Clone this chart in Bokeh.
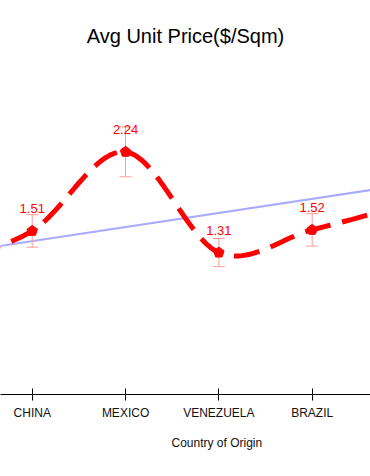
import numpy as np
from bokeh.plotting import figure
from bokeh.models import (Range1d, FixedTicker, Whisker, TeeHead, ColumnDataSource,
                          Title, Slope, GlobalInlineStyleSheet)
from bokeh.embed import file_html
from bokeh.resources import INLINE
from bokeh.core.properties import value

# ---- data ----
categories = ["CHINA", "MEXICO", "VENEZUELA", "BRAZIL"]
prices = [1.51, 2.24, 1.31, 1.52]
errors = [0.15, 0.23, 0.13, 0.15]
labels = ["1.51", "2.24", "1.31", "1.52"]
# the series continues outside the visible window on both sides
offscreen_left = 1.20
offscreen_right = 1.75
# light-blue trend line (value per category step, value at CHINA)
trend_gradient = 0.130
trend_intercept = 1.416

FONT = "Liberation Sans"

x = list(range(len(categories)))
curve_x = [x[0] - 1] + x + [x[-1] + 1]
curve_y = [offscreen_left] + prices + [offscreen_right]


def catmull_rom(xs, ys, steps=24):
    xs = np.asarray(xs, float)
    ys = np.asarray(ys, float)
    n = len(xs)
    px = np.concatenate([[xs[0]], xs, [xs[-1]]])
    py = np.concatenate([[ys[0]], ys, [ys[-1]]])
    outx, outy = [], []
    t = np.linspace(0, 1, steps, endpoint=False)
    h00 = 2 * t**3 - 3 * t**2 + 1
    h10 = t**3 - 2 * t**2 + t
    h01 = -2 * t**3 + 3 * t**2
    h11 = t**3 - t**2
    for i in range(n - 1):
        x0, x1 = px[i + 1], px[i + 2]
        y0, y1 = py[i + 1], py[i + 2]
        mx0 = 0.5 * (px[i + 2] - px[i]); my0 = 0.5 * (py[i + 2] - py[i])
        mx1 = 0.5 * (px[i + 3] - px[i + 1]); my1 = 0.5 * (py[i + 3] - py[i + 1])
        outx.extend(h00 * x0 + h10 * mx0 + h01 * x1 + h11 * mx1)
        outy.extend(h00 * y0 + h10 * my0 + h01 * y1 + h11 * my1)
    outx.append(xs[-1]); outy.append(ys[-1])
    return outx, outy


p = figure(width=370, height=476, output_backend="svg", toolbar_location=None,
           x_range=Range1d(-0.34, 3.625), y_range=Range1d(0, 3),
           min_border_left=0, min_border_right=0, min_border_top=69,
           min_border_bottom=82)
p.stylesheets = [GlobalInlineStyleSheet(css="body{margin:0;overflow:hidden}")]

p.title.text = "Avg Unit Price($/Sqm)"
p.title.align = "center"
p.title.text_font = FONT
p.title.text_font_size = "20px"
p.title.text_font_style = "normal"
p.title.text_color = "black"
p.title.standoff = 45

p.outline_line_color = None
p.xgrid.visible = False
p.ygrid.visible = False
p.yaxis.visible = False

xa = p.xaxis[0]
xa.ticker = FixedTicker(ticks=x)
xa.major_label_overrides = {i: c for i, c in zip(x, categories)}
xa.minor_tick_line_color = None
xa.major_tick_in = 6
xa.major_tick_out = 6
xa.axis_line_color = "black"
xa.major_tick_line_color = "black"
xa.major_label_text_font = FONT
xa.major_label_text_font_size = "12px"
xa.major_label_text_color = "#111111"
xa.major_label_standoff = 5

p.add_layout(Title(text="Country of Origin", align="left", offset=171,
                   standoff=22,
                   text_font=FONT, text_font_size="12px",
                   text_font_style="normal", text_color="#111111"), "below")

p.add_layout(Slope(gradient=trend_gradient, y_intercept=trend_intercept,
                   line_color="#aaaaff", line_width=2, level="underlay"))

src = ColumnDataSource(dict(x=x, y=prices,
                            upper=[v + e for v, e in zip(prices, errors)],
                            lower=[v - e for v, e in zip(prices, errors)],
                            label=labels))
err_col = "#ff9a9a"
p.add_layout(Whisker(source=src, base="x", upper="upper", lower="lower",
                     line_color=err_col, line_width=1, level="underlay",
                     upper_head=TeeHead(size=12, line_color=err_col, line_width=1),
                     lower_head=TeeHead(size=12, line_color=err_col, line_width=1)))

sx, sy = catmull_rom(curve_x, curve_y)
p.line(x=sx, y=sy, line_color="#ff0000", line_width=5, line_dash="26 12")

try:
    p.ngon(x="x", y="y", source=src, radius=5.5, n=5, radius_units="screen",
           fill_color="#ff0000", line_color="#ff0000")
except Exception:
    p.scatter(x="x", y="y", source=src, marker="hex", size=11,
              fill_color="#ff0000", line_color="#ff0000")

p.text(x="x", y="y", text="label", source=src, y_offset=-22,
       text_align="center", text_baseline="middle", text_color="#ff0000",
       text_font=value(FONT), text_font_size="13px")

open("out.html", "w").write(file_html(p, INLINE))
